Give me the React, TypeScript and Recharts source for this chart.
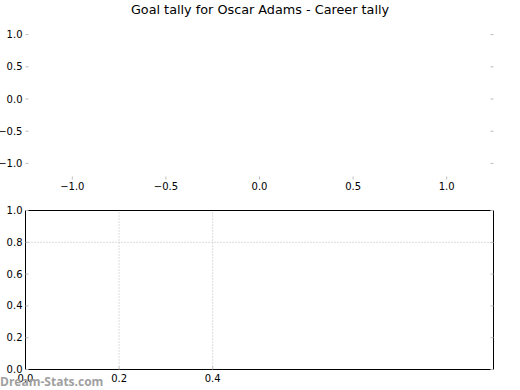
import { LineChart, XAxis, YAxis, ReferenceLine } from "recharts";

const title = "Goal tally for Oscar Adams - Career tally";
const watermark = "Dream-Stats.com";

// upper (empty) panel
const topDomain = [-1.25, 1.25];
const topTicks = [-1, -0.5, 0, 0.5, 1];

// lower (empty) panel
const bottomDomain = [0, 1];
const bottomXTicks = [0, 0.2, 0.4];
const bottomYTicks = [0, 0.2, 0.4, 0.6, 0.8, 1];
const gridX = [0.2, 0.4];
const gridY = [0.8];

const emptyData: { x: number; y: number }[] = [];

const font = "'DejaVu Sans', sans-serif";
const tickStyle = { fontSize: 10, fill: "#000", fontFamily: font };
const tickGray = "#bdbdbd";
const gridGray = "#bbbbbb";

const fmt = (v: number) => (v < 0 ? "\u2212" : "") + Math.abs(v).toFixed(1);
const NoLabel = () => <g />;

export default function App() {
  return (
    <div style={{ position: "absolute", left: 0, top: 0, width: 520, height: 390, background: "#fff", fontFamily: font }}>
      <div style={{ position: "absolute", left: 0, top: 3, width: 520, textAlign: "center", fontSize: 12.8, lineHeight: "14px", color: "#000" }}>
        {title}
      </div>

      <div style={{ position: "absolute", left: 0, top: 0 }}>
        <LineChart width={520} height={200} data={emptyData} margin={{ top: 17.5, right: 25.5, bottom: 19.5, left: 24.5 }}>
          <XAxis xAxisId="b" dataKey="x" type="number" domain={topDomain} ticks={topTicks} allowDataOverflow height={1} axisLine={false} tickSize={-3} tickMargin={6} tickLine={{ stroke: tickGray }} tick={tickStyle} tickFormatter={fmt} interval={0} />
          <XAxis xAxisId="t" orientation="top" type="number" domain={topDomain} ticks={topTicks} allowDataOverflow height={1} axisLine={false} tickSize={-3} tickLine={{ stroke: tickGray }} tick={NoLabel} interval={0} />
          <YAxis yAxisId="l" type="number" domain={topDomain} ticks={topTicks} allowDataOverflow width={1} axisLine={false} tickSize={-3} tickMargin={6} tickLine={{ stroke: tickGray }} tick={tickStyle} tickFormatter={fmt} interval={0} />
          <YAxis yAxisId="r" orientation="right" type="number" domain={topDomain} ticks={topTicks} allowDataOverflow width={1} axisLine={false} tickSize={-3} tickLine={{ stroke: tickGray }} tick={NoLabel} interval={0} />
        </LineChart>
      </div>

      <div style={{ position: "absolute", left: 0, top: 200 }}>
        <LineChart width={520} height={190} data={emptyData} margin={{ top: 9.5, right: 25.5, bottom: 19.5, left: 24.5 }}>
          {gridX.map((v) => (
            <ReferenceLine key={"gx" + v} x={v} xAxisId="b" yAxisId="l" stroke={gridGray} strokeDasharray="1 2" />
          ))}
          {gridY.map((v) => (
            <ReferenceLine key={"gy" + v} y={v} xAxisId="b" yAxisId="l" stroke={gridGray} strokeDasharray="1 2" />
          ))}
          <XAxis xAxisId="b" dataKey="x" type="number" domain={bottomDomain} ticks={bottomXTicks} allowDataOverflow height={1} axisLine={{ stroke: "#000" }} tickSize={-3} tickMargin={8} tickLine={{ stroke: tickGray }} tick={tickStyle} tickFormatter={fmt} interval={0} />
          <XAxis xAxisId="t" orientation="top" type="number" domain={bottomDomain} ticks={bottomXTicks} allowDataOverflow height={1} axisLine={{ stroke: "#000" }} tickSize={-3} tickLine={{ stroke: tickGray }} tick={NoLabel} interval={0} />
          <YAxis yAxisId="l" type="number" domain={bottomDomain} ticks={bottomYTicks} allowDataOverflow width={1} axisLine={{ stroke: "#000" }} tickSize={-3} tickMargin={6} tickLine={{ stroke: tickGray }} tick={tickStyle} tickFormatter={fmt} interval={0} />
          <YAxis yAxisId="r" orientation="right" type="number" domain={bottomDomain} ticks={bottomYTicks} allowDataOverflow width={1} axisLine={{ stroke: "#000" }} tickSize={-3} tickLine={{ stroke: tickGray }} tick={NoLabel} interval={0} />
        </LineChart>
      </div>

      <div style={{ position: "absolute", left: 0, top: 375, fontSize: 12, lineHeight: "14px", fontWeight: 700, color: "#a0a0a0", fontFamily: "'Open Sans', sans-serif" }}>
        {watermark}
      </div>
    </div>
  );
}
